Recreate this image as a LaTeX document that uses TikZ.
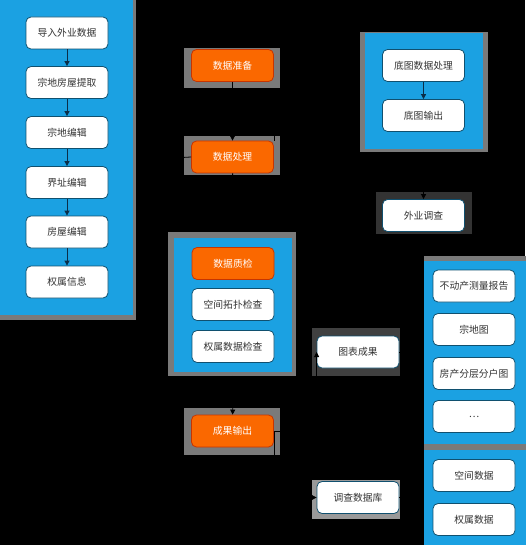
\documentclass[tikz,border=0pt]{standalone}
\usepackage{fontspec}
\setmainfont{Noto Sans CJK SC}
\usetikzlibrary{arrows.meta}
\definecolor{cblue}{HTML}{1BA1E2}
\definecolor{cborder}{HTML}{10506F}
\definecolor{ctext}{HTML}{333333}
\definecolor{corange}{HTML}{FA6800}
\definecolor{corangeb}{HTML}{C73500}
\definecolor{cgrey}{HTML}{7A7A7A}
\definecolor{carrow}{HTML}{0B2E48}
\tikzset{
  box/.style={rectangle, rounded corners=5pt, draw=cborder, line width=0.8pt, fill=white,
    text=ctext, font=\fontsize{9.8}{11}\selectfont, minimum width=82pt, minimum height=32pt, inner sep=0pt},
  obox/.style={box, fill=corange, draw=corangeb, text=white},
  inarrow/.style={draw=carrow, line width=0.8pt, -{Triangle[length=5pt,width=5pt]}},
  bgarrow/.style={draw=black, line width=0.8pt, -{Triangle[length=5pt,width=5pt]}},
  patch/.style={fill=cgrey, draw=none}
}
\begin{document}
\begin{tikzpicture}[x=1pt,y=-1pt]
\fill[black] (0,0) rectangle (525,545);
\useasboundingbox (0,0) rectangle (525,545);
% containers
\fill[cgrey] (-5,-5) rectangle (136,320);
\fill[cblue] (-5,-5) rectangle (133,315);
\fill[cgrey] (360,32) rectangle (488,152);
\fill[cblue] (365,33) rectangle (483,149);
\fill[cgrey] (168,232) rectangle (296,376);
\fill[cblue] (174,238) rectangle (292,372);
\fill[cgrey] (424,256) rectangle (530,450);
\fill[cblue] (424,261) rectangle (530,444);
\fill[cblue] (424,450) rectangle (530,550);
\coordinate (leftc) at (136,160);
\coordinate (trc) at (360,92);
\coordinate (trcb) at (423.5,152);
\coordinate (midt) at (233,232);
\coordinate (midb) at (233,376);
\coordinate (rct) at (424,352);
\coordinate (rcb) at (424,497.5);
% grey patches
\fill[patch] (184,48) rectangle (280,88);
\fill[patch] (184,136) rectangle (280,175);
\fill[patch] (184,408) rectangle (280,455);
\fill[black!60!gray] (376,192) rectangle (472,234);
\fill[black!75] (312,328) rectangle (400,376);
\fill[gray!80] (312,480) rectangle (400,519);
% left column
\node[box] (a1) at (67,33) {导入外业数据};
\node[box] (a2) at (67,82.5) {宗地房屋提取};
\node[box] (a3) at (67,132.5) {宗地编辑};
\node[box] (a4) at (67,182.5) {界址编辑};
\node[box] (a5) at (67,232) {房屋编辑};
\node[box] (a6) at (67,282) {权属信息};
% middle
\node[obox] (m1) at (232.5,65.5) {数据准备};
\node[obox] (m2) at (232.5,157) {数据处理};
\node[obox] (m3) at (233,263.5) {数据质检};
\node[box] (m4) at (233,304.5) {空间拓扑检查};
\node[box] (m5) at (233,346.5) {权属数据检查};
\node[obox] (m6) at (232.5,431) {成果输出};
% top right
\node[box] (t1) at (423.5,65.5) {底图数据处理};
\node[box] (t2) at (423.5,115.5) {底图输出};
\node[box] (t3) at (423.5,215.5) {外业调查};
% lower right
\node[box] (g1) at (358,352) {图表成果};
\node[box] (g2) at (358,497.5) {调查数据库};
\node[box] (r1) at (474,286) {不动产测量报告};
\node[box] (r2) at (474,329.5) {宗地图};
\node[box] (r3) at (474,373.5) {房产分层分户图};
\node[box] (r4) at (474,416.5) {…};
\node[box] (r5) at (474,475.5) {空间数据};
\node[box] (r6) at (474,519.5) {权属数据};
% arrows inside containers
\draw[inarrow] (a1) -- (a2);
\draw[inarrow] (a2) -- (a3);
\draw[inarrow] (a3) -- (a4);
\draw[inarrow] (a4) -- (a5);
\draw[inarrow] (a5) -- (a6);
\draw[inarrow] (t1) -- (t2);
% connectors on black background
\draw[bgarrow] (m1) -- (m2);
\draw[bgarrow] (m2.west) -- (leftc);
\draw[bgarrow] (m2.north east) |- (trc);
\draw[bgarrow] (m2) -- (midt);
\draw[bgarrow] (trcb) -- (t3);
\draw[bgarrow] (midb) -- (m6);
\draw[bgarrow] (m6.east) -| (g1.west);
\draw[bgarrow] (m6.east) |- (g2.west);
\draw[bgarrow] (g1) -- (rct);
\draw[bgarrow] (g2) -- (rcb);
\end{tikzpicture}
\end{document}
